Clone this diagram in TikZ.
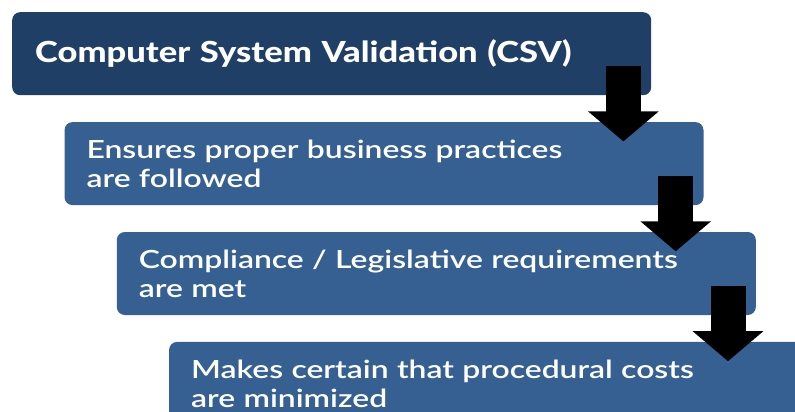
\documentclass[tikz,border=0pt]{standalone}
\usepackage{fontspec}
\setmainfont{Lato}
\newfontfamily\csvfont{Lato Heavy}[FakeStretch=1.19]
\newfontfamily\stepfont{Lato Semibold}[FakeStretch=1.275]
\usetikzlibrary{positioning,calc,arrows.meta}
\definecolor{csvblue}{HTML}{1F3F66}
\definecolor{stepblue}{HTML}{366092}
\tikzset{
  box/.style={rectangle, rounded corners=8pt, fill=stepblue, text=white, align=left,
    text width=595pt, inner xsep=22pt, inner ysep=0pt, minimum height=83pt,
    font=\stepfont\fontsize{25}{29}\selectfont},
  blockarrow/.style={line width=35pt, -{Triangle[length=30pt,width=69pt]}}
}
\begin{document}
\begin{tikzpicture}[x=1pt,y=1pt]
                \clip (0,0) rectangle (795,-412);
                \node(csv) [box, fill=csvblue, anchor=north west, inner xsep=23pt, text width=593pt,
                  font=\csvfont\fontsize{29}{33}\selectfont] at (12,-12) {Computer System Validation (CSV)};
                \node(business) [box, below=26.5pt of csv.south west, anchor=north west, xshift=52.3pt] {Ensures proper business practices\\are followed};
                \node(compliance) [box, below=26.5pt of business.south west, anchor=north west, xshift=52.3pt] {Compliance / Legislative requirements\\are met};
                \node(costs) [box, below=26.5pt of compliance.south west, anchor=north west, xshift=52.3pt] {Makes certain that procedural costs\\are minimized};

                \draw[blockarrow] ($(csv.south east)+(-28,29)$) -- ($(csv.south east |- business.north)+(-28,-19.5)$);
                \draw[blockarrow] ($(business.south east)+(-28,29)$) -- ($(business.south east |- compliance.north)+(-28,-19.5)$);
                \draw[blockarrow] ($(compliance.south east)+(-28,29)$) -- ($(compliance.south east |- costs.north)+(-28,-19.5)$);
			\end{tikzpicture}
\end{document}
